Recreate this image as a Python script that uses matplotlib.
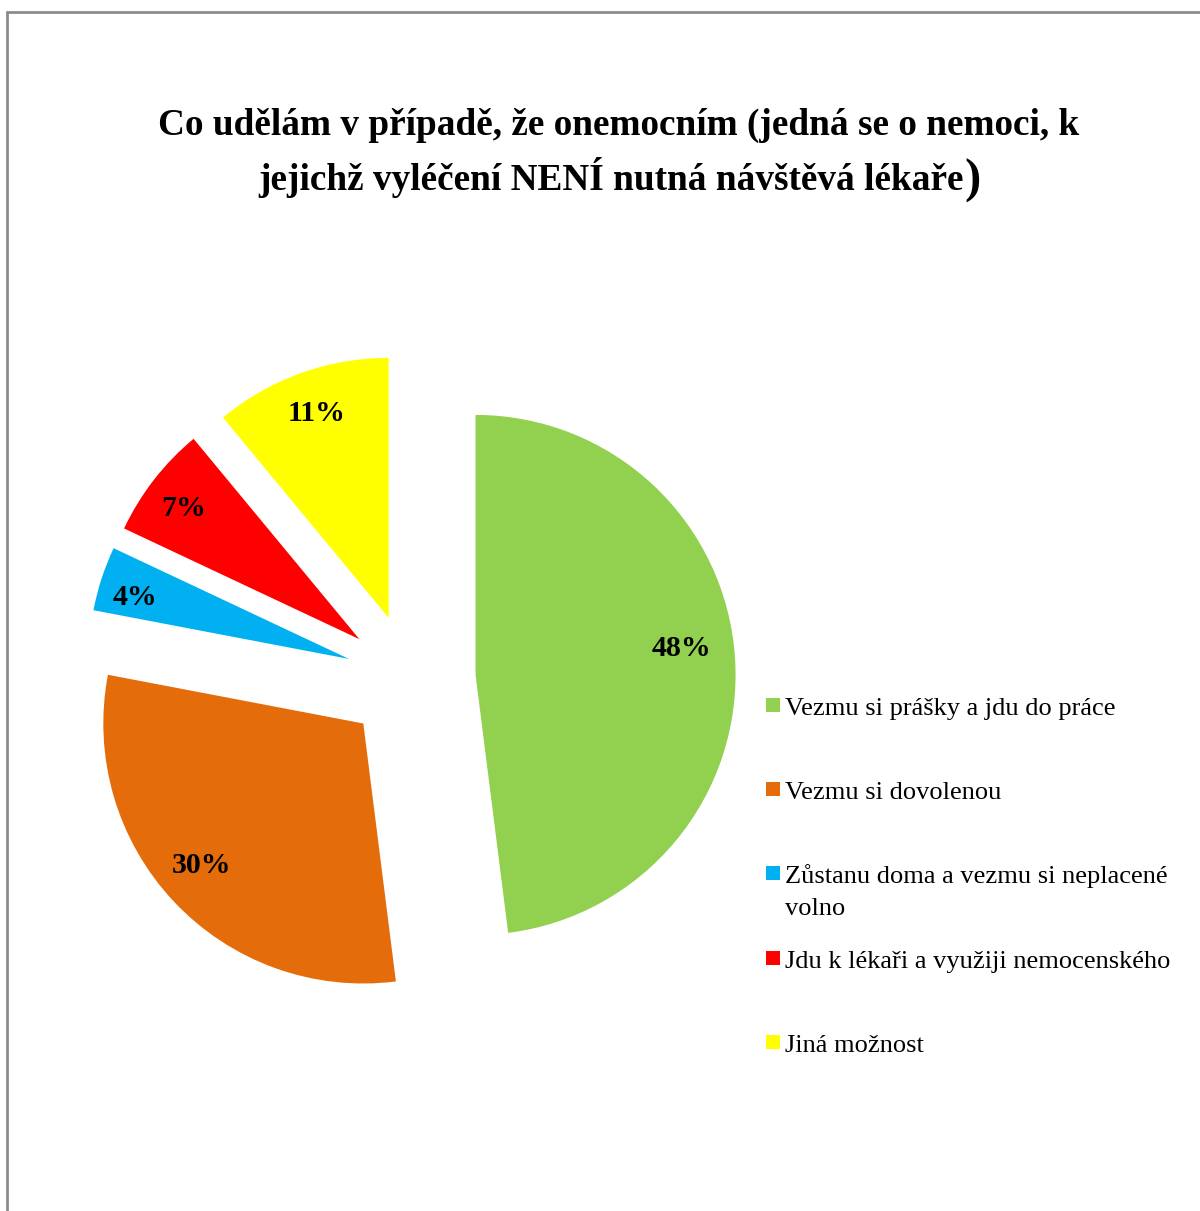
import numpy as np
import matplotlib.pyplot as plt
from matplotlib.patches import Rectangle

categories = [
    "Vezmu si prášky a jdu do práce",
    "Vezmu si dovolenou",
    "Zůstanu doma a vezmu si neplacené\nvolno",
    "Jdu k lékaři a využiji nemocenského",
    "Jiná možnost",
]
shares = [48, 30, 4, 7, 11]
colors = ["#92D050", "#E46C0A", "#00B0F0", "#FF0000", "#FFFF00"]

W, H = 1200, 1211
fig = plt.figure(figsize=(W / 100, H / 100), dpi=100)
ax = fig.add_axes([0, 0, 1, 1])

serif = ["Liberation Serif", "DejaVu Serif"]
R = 260

# pie laid out in pixel units (y measured from the bottom)
wedges, texts, autotexts = ax.pie(
    shares,
    colors=colors,
    startangle=90,
    counterclock=False,
    radius=R,
    center=(410.7, H - 679),
    explode=[65] * len(shares),
    autopct="%1.0f%%",
    pctdistance=0.83,
    wedgeprops=dict(linewidth=0),
    textprops=dict(fontsize=21.5, fontweight="bold", family=serif, color="black"),
)
ax.set_xlim(0, W)
ax.set_ylim(0, H)
ax.set_aspect("equal")
ax.axis("off")

# nudge the percentage labels inside their wedges
label_dist = [0.80, 0.82, 0.86, 0.85, 0.845]
label_turn = [4.4, -2.6, 1.3, 0.6, -0.5]
for w, t, d, turn in zip(wedges, autotexts, label_dist, label_turn):
    a = np.deg2rad((w.theta1 + w.theta2) / 2 + turn)
    cx, cy = w.center
    t.set_position((cx + d * R * np.cos(a), cy + d * R * np.sin(a) - 3))

# outer chart frame
ax.add_patch(Rectangle((6.5, -20), W, H - 12 + 20, fill=False,
                       edgecolor="#8c8c8c", linewidth=2, clip_on=False))

# title
ax.text(619, H - 135, "Co udělám v případě, že onemocním (jedná se o nemoci, k",
        ha="center", va="baseline", fontsize=26.8, fontweight="bold", family=serif)
line2 = ax.text(258, H - 190, "jejichž vyléčení NENÍ nutná návštěvá lékaře",
                ha="left", va="baseline", fontsize=26.8, fontweight="bold", family=serif)
fig.canvas.draw()
x_end = line2.get_window_extent().x1
ax.text(x_end + 1, H - 193, ")", ha="left", va="baseline",
        fontsize=35, fontweight="bold", family=serif)

# legend
y0, step = 715, 84.2
for i, (name, c) in enumerate(zip(categories, colors)):
    base = y0 + i * step
    ax.add_patch(Rectangle((766, H - base + 3), 14, 14, facecolor=c, edgecolor="none"))
    for j, part in enumerate(name.split("\n")):
        ax.text(785, H - (base + 32 * j), part, ha="left", va="baseline",
                fontsize=19, family=serif)

fig.savefig("out.png", dpi=100)
